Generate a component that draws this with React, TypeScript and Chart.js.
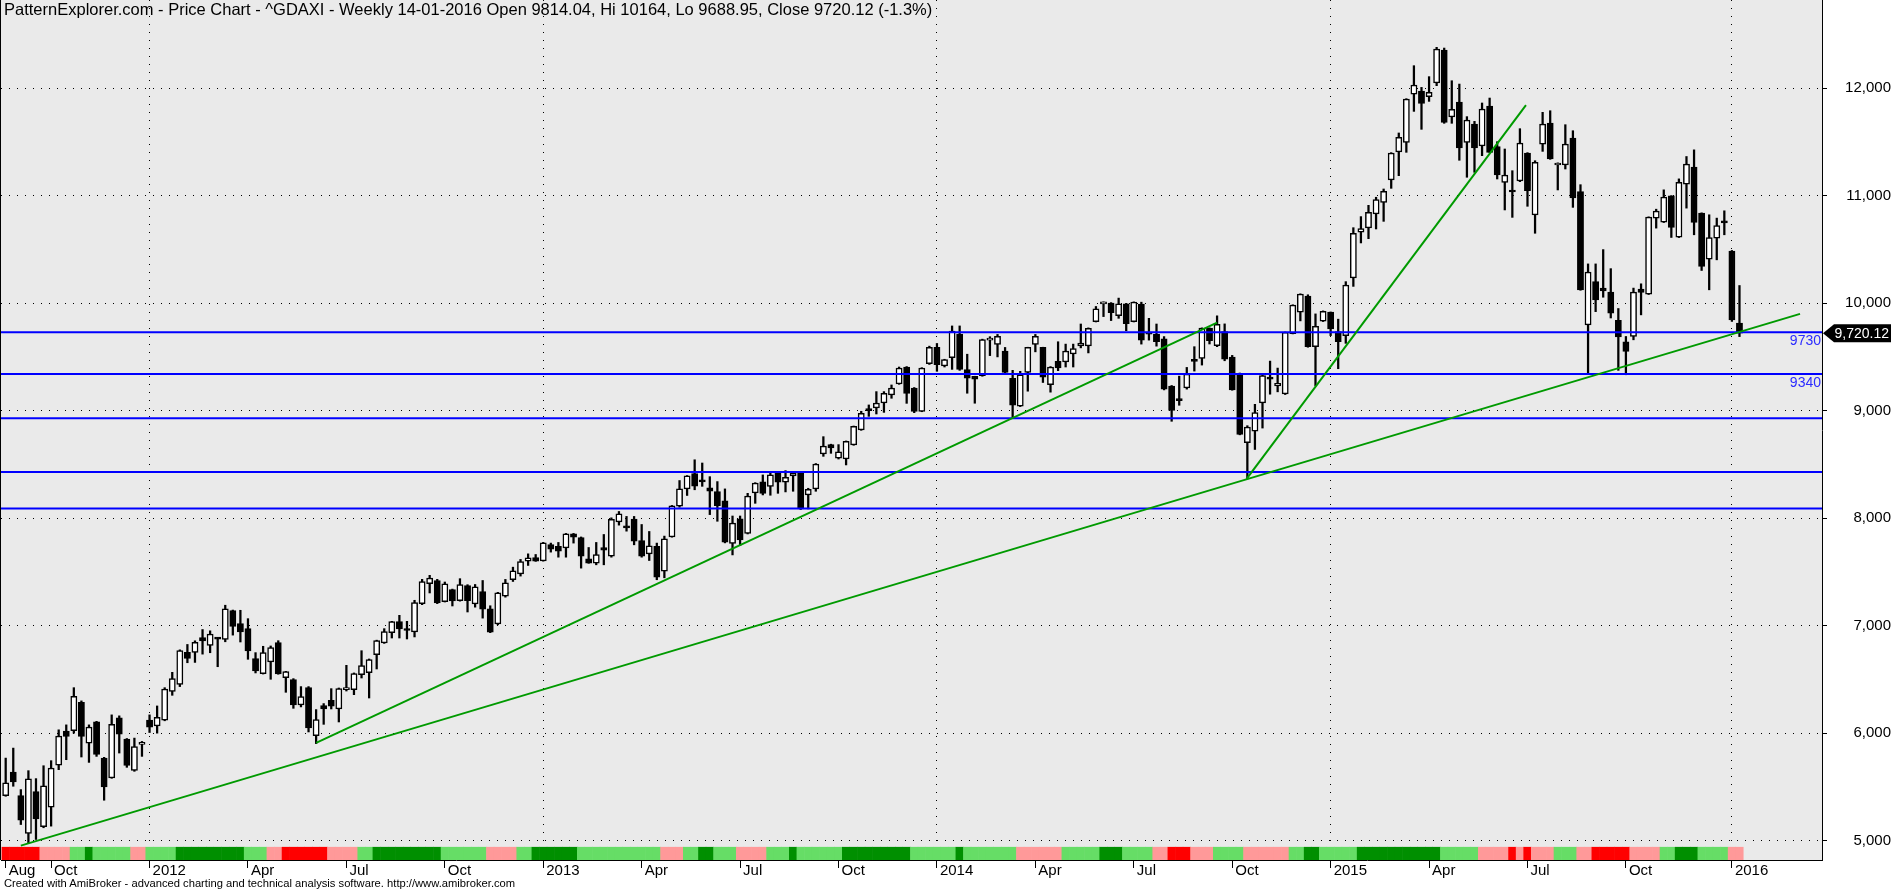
import React, { useEffect, useRef } from "react";
import { Chart, registerables } from "chart.js";

Chart.register(...registerables);

const W = 1891;
const H = 892;
const FONT = "'Liberation Sans', Arial, sans-serif";

// Weekly OHLC, ^GDAXI, week of 22-08-2011 .. week of 11-01-2016 (230 bars)
const opens = [
  5419, 5638, 5419, 5067, 5456, 5129, 5311, 5703, 6019, 6022,
  6287, 5907, 6105, 5768, 5583, 6142, 5944, 5654, 5895, 6121,
  6068, 6121, 6389, 6454, 6751, 6751, 6890, 6816, 6880, 6871,
  7140, 7019, 6972, 6693, 6554, 6662, 6842, 6516, 6498, 6262,
  6423, 5977, 6256, 6306, 6225, 6405, 6405, 6544, 6563, 6730,
  6839, 6935, 7037, 6965, 6941, 7205, 7391, 7419, 7223, 7335,
  7233, 7372, 7203, 7318, 7157, 7017, 7275, 7427, 7482, 7600,
  7634, 7603, 7755, 7737, 7724, 7854, 7820, 7622, 7582, 7727,
  7647, 7966, 7923, 7991, 7792, 7668, 7737, 7507, 7826, 8112,
  8273, 8415, 8349, 8281, 8247, 8160, 7766, 7993, 7859, 8234,
  8337, 8296, 8420, 8334, 8392, 8420, 8216, 8271, 8597, 8684,
  8557, 8550, 8681, 8820, 9009, 9025, 9071, 9146, 9248, 9406,
  9211, 8994, 9438, 9588, 9416, 9494, 9712, 9381, 9319, 9325,
  9656, 9616, 9553, 9300, 9041, 9356, 9616, 9588, 9241, 9459,
  9453, 9528, 9603, 9603, 9828, 9994, 10000, 9884, 9994, 9828,
  9991, 9725, 9709, 9667, 9228, 9103, 9212, 9464, 9486, 9767,
  9605, 9735, 9499, 9346, 8701, 8810, 9072, 9299, 9231, 9156,
  9717, 9916, 10066, 9595, 9832, 9916, 9735, 9698, 10234, 10660,
  10700, 10830, 10938, 11146, 11406, 11496, 11945, 11973, 11921, 12048,
  12355, 11732, 11871, 11496, 11666, 11462, 11834, 11456, 11124, 11040,
  11136, 11397, 10820, 11480, 11676, 11285, 11285, 11536, 11037, 9797,
  10200, 10141, 10104, 9840, 9640, 9690, 10130, 10084, 10790, 10753,
  10998, 10614, 11107, 11265, 10837, 10409, 10605, 10753, 10484, 9814.04,
];
const highs = [
  5768, 5861, 5475, 5651, 5577, 5697, 5744, 6031, 6077, 6423,
  6300, 6077, 6110, 5775, 6170, 6161, 5950, 5954, 5923, 6170,
  6253, 6423, 6566, 6775, 6825, 6859, 6964, 6952, 6890, 7190,
  7145, 7143, 7065, 6749, 6808, 6811, 6860, 6575, 6507, 6433,
  6433, 6219, 6275, 6414, 6420, 6631, 6560, 6767, 6690, 6865,
  6972, 7040, 7096, 7040, 7236, 7431, 7468, 7431, 7406, 7340,
  7437, 7381, 7383, 7420, 7185, 7310, 7430, 7544, 7616, 7668,
  7662, 7775, 7768, 7774, 7858, 7858, 7825, 7727, 7774, 7848,
  8003, 8062, 8016, 8016, 7941, 7876, 7768, 7833, 8118, 8350,
  8396, 8543, 8513, 8386, 8340, 8272, 8020, 8020, 8231, 8330,
  8402, 8427, 8425, 8442, 8425, 8425, 8278, 8508, 8758, 8688,
  8684, 8718, 8857, 8994, 9053, 9177, 9177, 9239, 9406, 9410,
  9215, 9400, 9600, 9625, 9478, 9788, 9788, 9525, 9320, 9665,
  9688, 9709, 9588, 9375, 9366, 9590, 9709, 9590, 9410, 9641,
  9619, 9619, 9806, 9770, 9969, 10012, 10005, 10047, 9998, 10012,
  10009, 9859, 9806, 9689, 9234, 9321, 9402, 9595, 9770, 9770,
  9882, 9807, 9514, 9350, 8860, 9059, 9330, 9461, 9396, 9732,
  9985, 10087, 10078, 9900, 9928, 9918, 9851, 10200, 10702, 10805,
  10910, 10985, 11062, 11400, 11583, 11902, 12209, 12007, 12107, 12380,
  12373, 12069, 12038, 11735, 11691, 11862, 11908, 11502, 11434, 11232,
  11623, 11400, 11325, 11775, 11790, 11305, 11660, 11604, 11102, 10365,
  10365, 10498, 10321, 9950, 9690, 10140, 10180, 10803, 10874, 11054,
  11000, 11156, 11364, 11426, 10840, 10822, 10791, 10859, 10490, 10164,
];
const lows = [
  5413, 5506, 5150, 4980, 5011, 5120, 5135, 5660, 5753, 6000,
  5778, 5728, 5784, 5376, 5580, 5815, 5682, 5645, 5784, 6006,
  6000, 6115, 6352, 6433, 6655, 6658, 6735, 6748, 6618, 6850,
  6912, 6848, 6687, 6560, 6550, 6501, 6548, 6380, 6231, 6244,
  6011, 5903, 6082, 6225, 6104, 6392, 6358, 6513, 6327, 6597,
  6835, 6885, 6885, 6876, 6895, 7195, 7304, 7205, 7220, 7183,
  7228, 7127, 7172, 7070, 6935, 7008, 7265, 7411, 7461, 7560,
  7598, 7600, 7684, 7637, 7637, 7768, 7535, 7580, 7566, 7566,
  7637, 7935, 7879, 7752, 7637, 7606, 7427, 7445, 7823, 8102,
  8211, 8264, 8296, 8033, 7971, 7770, 7658, 7744, 7853, 8138,
  8216, 8213, 8231, 8244, 8250, 8080, 8086, 8250, 8575, 8603,
  8550, 8495, 8678, 8817, 8947, 8969, 8984, 9115, 9245, 9068,
  8981, 8990, 9430, 9366, 9406, 9384, 9375, 9162, 9069, 9320,
  9512, 9500, 9350, 8938, 9038, 9181, 9547, 9262, 9172, 9372,
  9406, 9406, 9584, 9537, 9825, 9875, 9838, 9859, 9744, 9825,
  9619, 9656, 9600, 9193, 8901, 9050, 9200, 9368, 9424, 9620,
  9595, 9464, 9190, 8775, 8365, 8639, 8838, 9153, 9175, 9150,
  9714, 9835, 9590, 9231, 9829, 9698, 9390, 9626, 10156, 10560,
  10600, 10690, 10761, 11068, 11186, 11403, 11784, 11617, 11877, 12023,
  11673, 11673, 11329, 11171, 11217, 11372, 11400, 11155, 10867, 10798,
  11130, 10901, 10650, 11412, 11338, 11053, 11248, 10891, 10120, 9348,
  9921, 10055, 9862, 9375, 9334, 9659, 9891, 10080, 10698, 10750,
  10611, 10610, 10884, 10636, 10304, 10124, 10403, 10636, 9830, 9688.95,
];
const closes = [
  5537, 5546, 5190, 5574, 5203, 5509, 5676, 5972, 5969, 6343,
  5969, 6056, 5802, 5499, 6083, 5991, 5700, 5876, 5898, 6056,
  6148, 6411, 6507, 6769, 6695, 6844, 6859, 6921, 6874, 7156,
  6992, 6941, 6764, 6578, 6749, 6795, 6551, 6572, 6262, 6340,
  6048, 6126, 6225, 6250, 6414, 6410, 6554, 6628, 6684, 6860,
  6944, 7037, 6969, 6955, 7214, 7409, 7443, 7211, 7388, 7229,
  7381, 7233, 7361, 7154, 6940, 7306, 7399, 7510, 7597, 7631,
  7600, 7771, 7712, 7693, 7854, 7823, 7647, 7582, 7662, 7702,
  7988, 8040, 7910, 7786, 7647, 7743, 7451, 7808, 8115, 8273,
  8394, 8298, 8337, 8250, 8117, 7776, 7955, 7797, 8206, 8327,
  8231, 8402, 8334, 8380, 8420, 8086, 8268, 8504, 8671, 8653,
  8616, 8715, 8854, 8975, 9000, 9071, 9161, 9211, 9397, 9161,
  8994, 9397, 9588, 9428, 9475, 9741, 9384, 9303, 9294, 9662,
  9662, 9691, 9356, 9050, 9334, 9588, 9691, 9312, 9406, 9397,
  9553, 9578, 9628, 9766, 9947, 10000, 9912, 9994, 9809, 10009,
  9656, 9712, 9641, 9200, 9003, 9094, 9340, 9458, 9767, 9651,
  9804, 9480, 9193, 8779, 8848, 8982, 9327, 9293, 9253, 9729,
  9981, 10084, 9595, 9785, 9925, 9760, 9642, 10168, 10650, 10694,
  10846, 10963, 11040, 11397, 11542, 11899, 12029, 11859, 11961, 12364,
  11682, 11803, 11443, 11704, 11443, 11806, 11403, 11192, 11192, 11034,
  11490, 11046, 11310, 11666, 11341, 11301, 11480, 10978, 10123, 10290,
  10030, 10113, 9906, 9686, 9550, 10102, 10099, 10800, 10856, 10986,
  10704, 11125, 11293, 10750, 10341, 10611, 10722, 10747, 9845, 9720.12,
];

// Bottom ribbon state per week: R red, P pink, L light green, G dark green
const ribbonRuns: [string, number][] = [
  ["R", 5], ["P", 4], ["L", 2], ["G", 1], ["L", 5], ["P", 2], ["L", 4], ["G", 9],
  ["L", 3], ["P", 2], ["R", 6], ["P", 4], ["L", 2], ["G", 9], ["L", 6], ["P", 4],
  ["L", 2], ["G", 6], ["L", 11], ["P", 3], ["L", 2], ["G", 2], ["L", 3], ["P", 4],
  ["L", 3], ["G", 1], ["L", 6], ["G", 9], ["L", 6], ["G", 1], ["L", 7], ["P", 6],
  ["L", 5], ["G", 3], ["L", 4], ["P", 2], ["R", 3], ["P", 3], ["L", 4], ["P", 6],
  ["L", 2], ["G", 2], ["L", 5], ["G", 11], ["L", 5], ["P", 4], ["R", 1], ["P", 1],
  ["R", 1], ["P", 3], ["L", 3], ["P", 2], ["R", 5], ["P", 4], ["L", 2], ["G", 3],
  ["L", 4], ["P", 2],
];
const ribbonColors: Record<string, string> = {
  R: "#ff0000",
  P: "#ff9999",
  L: "#66dd66",
  G: "#008f00",
};

// x-axis ticks (bar index of first week of the month) and labels
const monthTickIndex = [0, 6, 19, 32, 45, 58, 71, 84, 97, 110, 123, 136, 149, 162, 175, 188, 201, 214, 228];
const monthTickLabels = ["Aug", "Oct", "2012", "Apr", "Jul", "Oct", "2013", "Apr", "Jul", "Oct", "2014", "Apr", "Jul", "Oct", "2015", "Apr", "Jul", "Oct", "2016"];

const yTicks = [5000, 6000, 7000, 8000, 9000, 10000, 11000, 12000];

// horizontal support / resistance levels
const levels = [9730, 9340, 8930, 8430, 8090];
const labeledLevels = [9730, 9340];

// trend lines: start index/value -> end index/value
const trendStartIdx = [2, 41, 163.9];
const trendStartVal = [4954, 5909, 8365];
const trendEndIdx = [237, 160, 200.8];
const trendEndVal = [9900, 9819, 11843];

const X_MIN = -0.62;
const X_MAX = 239.9;
const Y_MIN = 4820;
const Y_MAX = 12820;
const RIBBON_TOP = 4942;

const TITLE =
  "PatternExplorer.com - Price Chart - ^GDAXI - Weekly 14-01-2016 Open 9814.04, Hi 10164, Lo 9688.95, Close 9720.12 (-1.3%)";
const FOOTER =
  "Created with AmiBroker - advanced charting and technical analysis software. http://www.amibroker.com";

const zeroPad = (s: any) => {
  s.paddingTop = 0;
  s.paddingBottom = 0;
  s.paddingLeft = 0;
  s.paddingRight = 0;
};

export default function App() {
  const ref = useRef<HTMLCanvasElement | null>(null);

  useEffect(() => {
    const canvas = ref.current;
    if (!canvas) return;

    const ribbonStates: string[] = [];
    ribbonRuns.forEach(([s, n]) => {
      for (let k = 0; k < n; k++) ribbonStates.push(s);
    });

    const n = closes.length;
    const idx = closes.map((_, i) => i);

    const bgPlugin = {
      id: "bg",
      beforeDraw(chart: any) {
        const { ctx, chartArea } = chart;
        ctx.save();
        ctx.fillStyle = "#ffffff";
        ctx.fillRect(0, 0, chart.width, chart.height);
        ctx.fillStyle = "#eaeaea";
        ctx.fillRect(0, chartArea.top, chartArea.right, chartArea.bottom - chartArea.top);
        ctx.restore();
      },
      afterDraw(chart: any) {
        const { ctx, chartArea } = chart;
        ctx.save();
        ctx.strokeStyle = "#000";
        ctx.lineWidth = 1;
        ctx.beginPath();
        ctx.moveTo(0.5, chartArea.top);
        ctx.lineTo(0.5, chartArea.bottom);
        ctx.stroke();
        ctx.restore();
      },
    };

    const labelPlugin = {
      id: "levelLabels",
      afterDraw(chart: any) {
        const { ctx, chartArea } = chart;
        const ys = chart.scales.y;
        ctx.save();
        ctx.font = `14px ${FONT}`;
        ctx.fillStyle = "#2b2bff";
        ctx.textAlign = "right";
        ctx.textBaseline = "top";
        labeledLevels.forEach((v) => {
          const y = ys.getPixelForValue(v);
          ctx.fillText(String(v), chartArea.right - 1, y + 2);
        });
        // last price tag
        const last = closes[n - 1];
        const y = ys.getPixelForValue(last);
        const x0 = chartArea.right + 1;
        ctx.fillStyle = "#000";
        ctx.beginPath();
        ctx.moveTo(x0, y);
        ctx.lineTo(x0 + 11, y - 9);
        ctx.lineTo(W, y - 9);
        ctx.lineTo(W, y + 9);
        ctx.lineTo(x0 + 11, y + 9);
        ctx.closePath();
        ctx.fill();
        ctx.fillStyle = "#fff";
        ctx.font = `14px ${FONT}`;
        ctx.textAlign = "right";
        ctx.textBaseline = "middle";
        ctx.fillText(
          last.toLocaleString("en-US", { minimumFractionDigits: 2, maximumFractionDigits: 2 }),
          W - 2,
          y + 1
        );
        ctx.restore();
      },
    };

    const datasets: any[] = [
      {
        type: "bar",
        label: "ribbon",
        data: idx.map((i) => ({ x: i, y: [Y_MIN, RIBBON_TOP] })),
        backgroundColor: ribbonStates.map((s) => ribbonColors[s]),
        borderWidth: 0,
        barPercentage: 1.08,
        categoryPercentage: 1,
        grouped: false,
        order: 6,
      },
      {
        type: "bar",
        label: "wicks",
        data: idx.map((i) => ({ x: i, y: [lows[i], highs[i]] })),
        backgroundColor: "#000",
        borderWidth: 0,
        barThickness: 1.6,
        grouped: false,
        order: 5,
      },
      {
        type: "bar",
        label: "bodies",
        data: idx.map((i) => ({ x: i, y: [Math.min(opens[i], closes[i]), Math.max(opens[i], closes[i])] })),
        backgroundColor: idx.map((i) => (closes[i] >= opens[i] ? "#ffffff" : "#000000")),
        borderColor: "#000",
        borderWidth: 1.5,
        borderSkipped: false,
        barThickness: 6.2,
        minBarLength: 2,
        grouped: false,
        order: 4,
      },
    ];

    levels.forEach((v) => {
      datasets.push({
        type: "line",
        label: "level " + v,
        data: [
          { x: X_MIN, y: v },
          { x: X_MAX, y: v },
        ],
        borderColor: "#0000ff",
        borderWidth: 2,
        pointRadius: 0,
        order: 2,
      });
    });

    trendStartIdx.forEach((s, k) => {
      datasets.push({
        type: "line",
        label: "trend " + k,
        data: [
          { x: s, y: trendStartVal[k] },
          { x: trendEndIdx[k], y: trendEndVal[k] },
        ],
        borderColor: "#009a00",
        borderWidth: 2,
        pointRadius: 0,
        order: 1,
      });
    });

    const isYear = (i: number) => /^\d{4}$/.test(monthTickLabels[i] || "");

    const chart = new Chart(canvas, {
      type: "bar",
      data: { datasets },
      plugins: [bgPlugin, labelPlugin],
      options: {
        animation: false,
        responsive: false,
        devicePixelRatio: 1,
        layout: { padding: { left: 1, right: 0, top: 0, bottom: 0 } },
        plugins: {
          legend: { display: false },
          tooltip: { enabled: false },
          title: { display: false },
        },
        scales: {
          x: {
            type: "linear",
            min: X_MIN,
            max: X_MAX,
            offset: false,
            afterBuildTicks: (s: any) => {
              s.ticks = monthTickIndex.map((v) => ({ value: v }));
            },
            afterFit: (s: any) => {
              s.height = H - 860;
              zeroPad(s);
            },
            ticks: {
              autoSkip: false,
              maxRotation: 0,
              minRotation: 0,
              align: "start",
              labelOffset: 3,
              padding: -6,
              color: "#000",
              font: { family: FONT, size: 15 },
              callback: (_v: any, i: number) => monthTickLabels[i],
            },
            grid: {
              offset: false,
              color: (c: any) => (isYear(c.index) ? "#000" : "rgba(0,0,0,0)"),
              tickColor: "#000",
              tickLength: 8,
              lineWidth: 1,
            },
            border: { display: true, color: "#000", width: 1, dash: [1, 7] },
          },
          y: {
            type: "linear",
            position: "right",
            min: Y_MIN,
            max: Y_MAX,
            afterBuildTicks: (s: any) => {
              s.ticks = yTicks.map((v) => ({ value: v }));
            },
            afterFit: (s: any) => {
              s.width = W - 1822;
              zeroPad(s);
            },
            ticks: {
              crossAlign: "far",
              padding: 12,
              color: "#000",
              font: { family: FONT, size: 15 },
              callback: (v: any) => Number(v).toLocaleString("en-US"),
            },
            grid: {
              offset: false,
              color: "#000",
              tickColor: "#000",
              tickLength: 5,
              lineWidth: 1,
            },
            border: { display: true, color: "#000", width: 1, dash: [1, 7] },
          },
        },
      } as any,
    });

    return () => chart.destroy();
  }, []);

  return (
    <div
      style={{
        position: "absolute",
        left: 0,
        top: 0,
        width: W,
        height: H,
        background: "#fff",
        overflow: "hidden",
      }}
    >
      <canvas ref={ref} width={W} height={H} style={{ display: "block" }} />
      <div
        style={{
          position: "absolute",
          left: 4,
          top: 0,
          font: `16.5px ${FONT}`,
          color: "#000",
          whiteSpace: "nowrap",
          lineHeight: "18px",
        }}
      >
        {TITLE}
      </div>
      <div
        style={{
          position: "absolute",
          left: 4,
          top: 877,
          font: `11.2px ${FONT}`,
          color: "#000",
          whiteSpace: "nowrap",
          lineHeight: "13px",
        }}
      >
        {FOOTER}
      </div>
    </div>
  );
}
